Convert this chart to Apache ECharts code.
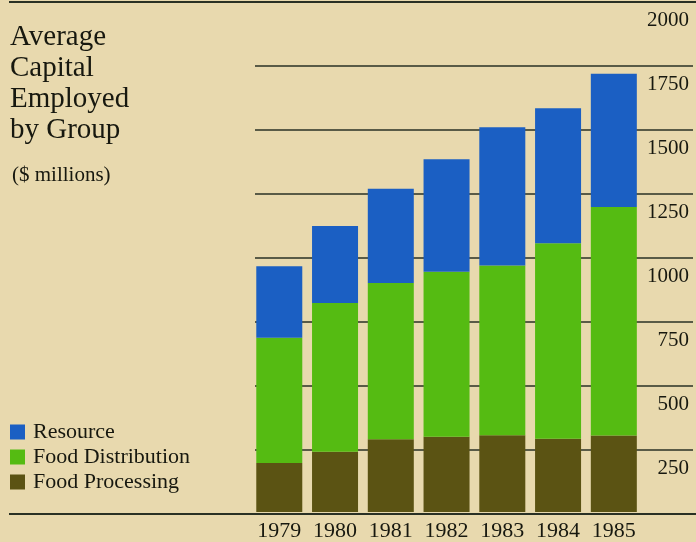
<!DOCTYPE html>
<html>
<head>
<meta charset="utf-8">
<script src="https://cdn.jsdelivr.net/npm/echarts@6/dist/echarts.min.js"></script>
<style>
  html, body { margin: 0; padding: 0; background: #e8d9ae; }
  #chart { width: 696px; height: 542px; }
</style>
</head>
<body>
<div id="chart"></div>
<script>
// Average capital employed by group, $ millions
const years = ['1979', '1980', '1981', '1982', '1983', '1984', '1985'];
const foodProcessing   = [192, 236, 285, 295, 301, 287, 300];
const foodDistribution = [491, 584, 613, 647, 666, 767, 896];
const resource         = [281, 302, 370, 441, 542, 529, 523];
const valueTicks = ['250', '500', '750', '1000', '1250', '1500', '1750', '2000'];

const serif = '"Liberation Serif", "DejaVu Serif", serif';
const ink = '#17180f';
const rule = '#2a3124';

const chart = echarts.init(document.getElementById('chart'), null, { renderer: 'canvas' });

chart.setOption({
  backgroundColor: '#e8d9ae',
  animation: false,
  title: [
    {
      text: 'Average\nCapital\nEmployed\nby Group',
      left: 5, top: 17, padding: [5, 5, 5, 5],
      textStyle: { fontFamily: serif, fontSize: 29, fontWeight: 'normal', color: ink, lineHeight: 31 }
    },
    {
      text: '($ millions)',
      left: 7, top: 160,
      textStyle: { fontFamily: serif, fontSize: 21, fontWeight: 'normal', color: ink }
    }
  ],
  legend: {
    orient: 'vertical',
    left: 10, top: 421, padding: 0,
    itemWidth: 15, itemHeight: 15, itemGap: 3,
    icon: 'rect',
    data: ['Resource', 'Food Distribution', 'Food Processing'],
    textStyle: { fontFamily: serif, fontSize: 22, color: ink, padding: [0, 0, 0, 3] }
  },
  grid: [
    // full-width top and bottom rules
    { left: 9, right: 0, top: 2, bottom: 28.3 },
    // value rules and labels
    { left: 255, right: 3, top: 2, bottom: 28.3 },
    // bars
    { left: 251.4, right: 54.3, top: 2, bottom: 28.3 }
  ],
  xAxis: [
    { gridIndex: 0, type: 'value', min: 0, max: 1, show: false },
    { gridIndex: 1, type: 'value', min: 0, max: 1, show: false },
    {
      gridIndex: 2, type: 'category', data: years,
      axisLine: { show: false }, axisTick: { show: false },
      axisLabel: { interval: 0, hideOverlap: false, fontFamily: serif, fontSize: 22, color: ink, margin: 8 }
    }
  ],
  yAxis: [
    {
      gridIndex: 0, type: 'value', min: 0, max: 2000, interval: 2000,
      axisLine: { show: false }, axisTick: { show: false }, axisLabel: { show: false },
      splitLine: { show: true, lineStyle: { color: rule, width: 2 } }
    },
    {
      gridIndex: 1, type: 'value', position: 'right', min: 0, max: 2000, interval: 250,
      axisLine: { show: false }, axisTick: { show: false },
      axisLabel: {
        inside: true, margin: 4,
        fontFamily: serif, fontSize: 21, color: ink,
        verticalAlign: 'top', padding: [8, 0, 0, 0],
        formatter: v => (valueTicks.includes(String(v)) ? String(v) : '')
      },
      splitLine: { show: true, lineStyle: { color: rule, width: 1.6 } }
    },
    { gridIndex: 2, type: 'value', min: 0, max: 2000, show: false, splitLine: { show: false } }
  ],
  series: [
    {
      name: 'Food Processing', type: 'bar', stack: 'capital',
      xAxisIndex: 2, yAxisIndex: 2, barWidth: 46,
      itemStyle: { color: '#5b5313' },
      data: foodProcessing
    },
    {
      name: 'Food Distribution', type: 'bar', stack: 'capital',
      xAxisIndex: 2, yAxisIndex: 2, barWidth: 46,
      itemStyle: { color: '#55bb12' },
      data: foodDistribution
    },
    {
      name: 'Resource', type: 'bar', stack: 'capital',
      xAxisIndex: 2, yAxisIndex: 2, barWidth: 46,
      itemStyle: { color: '#1b5fc3' },
      data: resource
    }
  ]
});
</script>
</body>
</html>
